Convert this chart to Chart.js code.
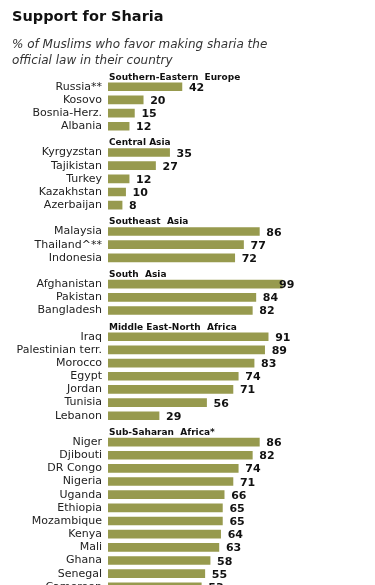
<!DOCTYPE html>
<html>
<head>
<meta charset="utf-8">
<script src="https://cdn.jsdelivr.net/npm/chart.js@4.4.1/dist/chart.umd.min.js"></script>
<style>
  html, body { margin: 0; padding: 0; background: #fff; overflow: hidden; }
  #wrap { position: relative; width: 375px; height: 606px; }
  #title { position: absolute; left: 12px; top: 7px; font: bold 14.5px "DejaVu Sans", sans-serif; line-height: 18px; color: #111; }
  #subtitle { position: absolute; left: 12px; top: 36px; font: italic 12px "DejaVu Sans", sans-serif; line-height: 16px; color: #333; }
  #chart-box { position: absolute; left: 0; top: 0; width: 375px; height: 606px; }
</style>
</head>
<body>
<div id="wrap">
  <div id="chart-box"><canvas id="sharia-chart"></canvas></div>
  <div id="title">Support for Sharia</div>
  <div id="subtitle">% of Muslims who favor making sharia the<br>official law in their country</div>
</div>
<script>
// Regions and countries
const regionNames = ['Southern-Eastern  Europe', 'Central Asia', 'Southeast  Asia', 'South  Asia', 'Middle East-North  Africa', 'Sub-Saharan  Africa*'];

const europeCountries = ['Russia**', 'Kosovo', 'Bosnia-Herz.', 'Albania'];
const europeValues = [42, 20, 15, 12];

const centralAsiaCountries = ['Kyrgyzstan', 'Tajikistan', 'Turkey', 'Kazakhstan', 'Azerbaijan'];
const centralAsiaValues = [35, 27, 12, 10, 8];

const southeastAsiaCountries = ['Malaysia', 'Thailand^**', 'Indonesia'];
const southeastAsiaValues = [86, 77, 72];

const southAsiaCountries = ['Afghanistan', 'Pakistan', 'Bangladesh'];
const southAsiaValues = [99, 84, 82];

const menaCountries = ['Iraq', 'Palestinian terr.', 'Morocco', 'Egypt', 'Jordan', 'Tunisia', 'Lebanon'];
const menaValues = [91, 89, 83, 74, 71, 56, 29];

const africaCountries = ['Niger', 'Djibouti', 'DR Congo', 'Nigeria', 'Uganda', 'Ethiopia', 'Mozambique', 'Kenya', 'Mali', 'Ghana', 'Senegal', 'Cameroon'];
const africaValues = [86, 82, 74, 71, 66, 65, 65, 64, 63, 58, 55, 53];

const regionCountries = [europeCountries, centralAsiaCountries, southeastAsiaCountries, southAsiaCountries, menaCountries, africaCountries];
const regionValues = [europeValues, centralAsiaValues, southeastAsiaValues, southAsiaValues, menaValues, africaValues];

// one row per region header (empty bar), then one per country
const labels = [];
const values = [];
const headerRows = [];
regionNames.forEach((name, i) => {
    headerRows.push(labels.length);
    labels.push(name);
    values.push(null);
    regionCountries[i].forEach((c, j) => {
        labels.push(c);
        values.push(regionValues[i][j]);
    });
});

const barColor = '#979a4e';

// draws region headers and the value at the end of each bar
const annotate = {
    id: 'annotate',
    afterDatasetsDraw(chart) {
        const ctx = chart.ctx;
        const area = chart.chartArea;
        const y = chart.scales.y;
        ctx.save();
        ctx.fillStyle = '#111';
        ctx.textAlign = 'left';
        ctx.textBaseline = 'alphabetic';
        ctx.font = 'bold 9px "DejaVu Sans"';
        headerRows.forEach(i => {
            ctx.fillText(labels[i], area.left + 1, y.getPixelForValue(i) + 6);
        });
        ctx.font = 'bold 11px "DejaVu Sans"';
        chart.getDatasetMeta(0).data.forEach((bar, i) => {
            if (values[i] == null) return;
            ctx.fillText(values[i], Math.min(bar.x + 7, area.right - 5), bar.y + 4);
        });
        ctx.restore();
    }
};

const ctxSharia = document.getElementById('sharia-chart').getContext('2d');
new Chart(ctxSharia, {
    type: 'bar',
    data: {
        labels: labels,
        datasets: [{
            data: values,
            backgroundColor: barColor,
            borderWidth: 0,
            barThickness: 8
        }]
    },
    plugins: [annotate],
    options: {
        indexAxis: 'y',
        responsive: true,
        maintainAspectRatio: false,
        animation: false,
        layout: { padding: { left: 0, right: 91, top: 67, bottom: 7 } },
        plugins: {
            legend: { display: false },
            tooltip: { enabled: false }
        },
        scales: {
            x: { display: false, min: 0, max: 100 },
            y: {
                border: { display: false },
                grid: { display: false, drawTicks: false },
                afterFit(scale) { scale.width = 108; },
                ticks: {
                    autoSkip: false,
                    padding: 6,
                    color: '#222',
                    font: { family: '"DejaVu Sans"', size: 11 },
                    callback: (v, i) => headerRows.includes(i) ? '' : labels[i]
                }
            }
        }
    }
});
</script>
</body>
</html>
